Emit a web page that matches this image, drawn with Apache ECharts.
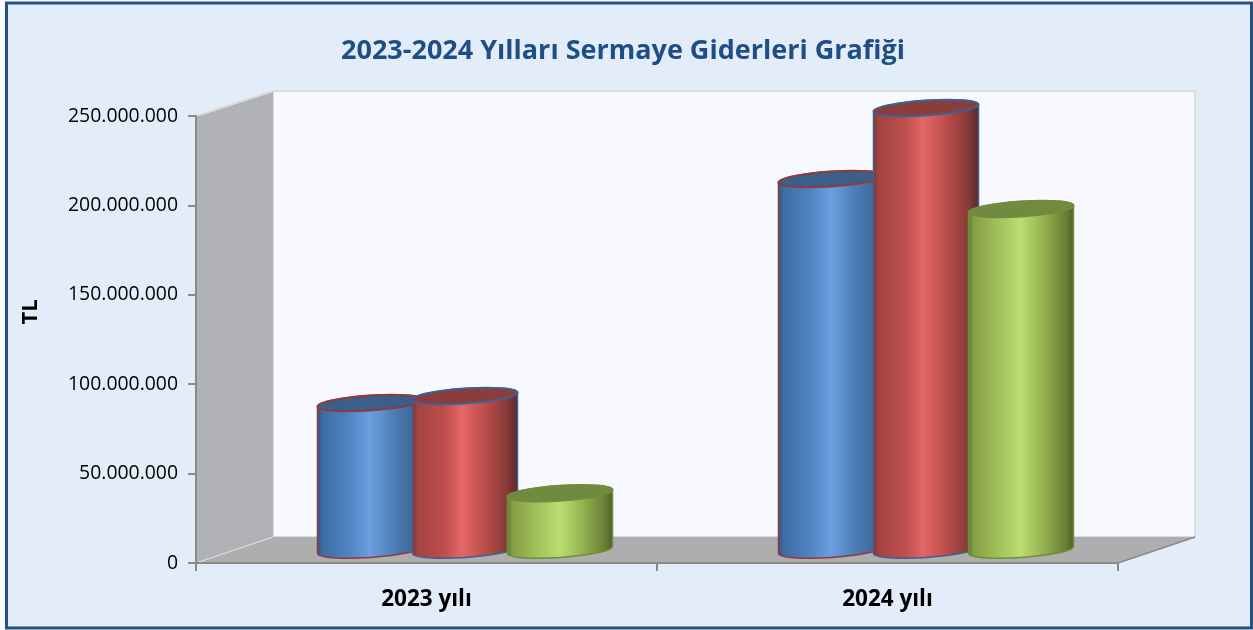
<!DOCTYPE html>
<html>
<head>
<meta charset="utf-8">
<script src="https://cdn.jsdelivr.net/npm/echarts@6/dist/echarts.min.js"></script>
<style>
    html, body { margin: 0; padding: 0; background: #f7fbff; }
    #chart { width: 1253px; height: 630px; }
</style>
</head>
<body>
<div id="chart"></div>
<script>
    const categories = ['2023 yılı', '2024 yılı'];
    const tickLabels = ['0', '50.000.000', '100.000.000', '150.000.000', '200.000.000', '250.000.000'];
    const blueValues = [82500000, 207800000];
    const redValues = [86400000, 247500000];
    const greenValues = [32000000, 191000000];

    // 3d box depth, in pixels
    const depthX = 77;
    const depthY = 26;
    const barWidth = 105;
    const barStep = 95;
    const fontName = 'Open Sans';

    function hGrad(stops) {
        return new echarts.graphic.LinearGradient(0, 0, 1, 0, stops.map(s => ({offset: s[0], color: s[1]})));
    }

    const blueStyle = {
        body: hGrad([[0, '#2f5584'], [0.06, '#3f6da3'], [0.3, '#4f83c2'], [0.5, '#6a9fe0'], [0.72, '#4c7eb9'], [0.92, '#3d6795'], [1, '#2c4a70']]),
        top: '#3a5f8a',
        stroke: '#93393a'
    };
    const redStyle = {
        body: hGrad([[0, '#7f3433'], [0.06, '#a44442'], [0.3, '#bd4e4c'], [0.47, '#e36766'], [0.7, '#b94c4a'], [0.9, '#843a38'], [1, '#582625']]),
        top: '#8b3d3b',
        stroke: '#3c6192'
    };
    const greenStyle = {
        body: hGrad([[0, '#5f7630'], [0.06, '#85a044'], [0.3, '#a3c25c'], [0.5, '#bade70'], [0.72, '#93b04f'], [0.92, '#687f35'], [1, '#4c5f27']]),
        top: '#728a3f',
        stroke: '#718c3c'
    };

    function cylinderSeries(name, values, index, look) {
        return {
            name: name,
            type: 'custom',
            z: 5 + index,
            silent: true,
            data: values.map((v, i) => [i, v]),
            renderItem: function (params, api) {
                const cat = api.value(0);
                const cx = api.coord([cat, 0])[0] + depthX / 2 + (index - 1) * barStep;
                const baseY = api.coord([cat, 0])[1] - depthY / 2;
                const topY = api.coord([cat, api.value(1)])[1] - depthY / 2 + 0.5;
                const rx = barWidth / 2;
                const ry = 7.5;
                const tilt = 3.5;
                const rot = -Math.atan(tilt / rx) * 180 / Math.PI;
                const arc = rx + ' ' + ry + ' ' + rot + ' 0 0 ';
                const lx = cx - rx;
                const rx2 = cx + rx;
                const bodyPath = 'M' + lx + ' ' + (topY + tilt) +
                    ' L' + lx + ' ' + (baseY + tilt) +
                    ' A' + arc + rx2 + ' ' + (baseY - tilt) +
                    ' L' + rx2 + ' ' + (topY - tilt) +
                    ' A' + arc + lx + ' ' + (topY + tilt) + ' Z';
                const topPath = 'M' + lx + ' ' + (topY + tilt) +
                    ' A' + arc + rx2 + ' ' + (topY - tilt) +
                    ' A' + arc + lx + ' ' + (topY + tilt) + ' Z';
                return {
                    type: 'group',
                    children: [
                        {
                            type: 'path',
                            shape: {pathData: bodyPath},
                            style: {fill: look.body, stroke: look.stroke, lineWidth: 1.5}
                        },
                        {
                            type: 'path',
                            shape: {pathData: topPath},
                            style: {fill: look.top, stroke: look.stroke, lineWidth: 2}
                        }
                    ]
                };
            }
        };
    }

    // side wall, back wall and floor, taken from the grid rect
    const wallSeries = {
        type: 'custom',
        z: 1,
        silent: true,
        data: [0],
        renderItem: function (params) {
            const g = params.coordSys;
            const l = g.x, t = g.y, r = g.x + g.width, b = g.y + g.height;
            const bl = l + depthX, br = r + depthX, bt = t - depthY + 1, bb = b - depthY;
            return {
                type: 'group',
                children: [
                    {type: 'rect', shape: {x: bl, y: bt, width: br - bl, height: bb - bt},
                        style: {fill: '#f7f9fe', stroke: '#dcdcdc', lineWidth: 2}},
                    {type: 'polygon', shape: {points: [[l, t], [bl, bt], [bl, bb], [l, b]]},
                        style: {fill: '#b1b2b5'}},
                    {type: 'polygon', shape: {points: [[l, b], [bl, bb], [br, bb], [r, b]]},
                        style: {fill: '#aeaeae'}},
                    {type: 'polyline', shape: {points: [[l, t], [bl, bt]]},
                        style: {fill: 'none', stroke: '#dcdcdc', lineWidth: 2}},
                    {type: 'polyline', shape: {points: [[l, b], [bl, bb]]},
                        style: {fill: 'none', stroke: '#e4e4e4', lineWidth: 1}},
                    {type: 'polyline', shape: {points: [[r, b], [br, bb]]},
                        style: {fill: 'none', stroke: '#8a8a8a', lineWidth: 1.5}}
                ]
            };
        }
    };

    const chart = echarts.init(document.getElementById('chart'), null, {renderer: 'canvas'});

    const option = {
        backgroundColor: 'transparent',
        animation: false,
        graphic: [{
            type: 'rect',
            z: -10,
            shape: {x: 6.5, y: 3, width: 1245, height: 625},
            style: {fill: '#e3edfa', stroke: '#25507f', lineWidth: 3}
        }],
        title: {
            text: '2023-2024 Yılları Sermaye Giderleri Grafiği',
            left: 618,
            top: 33,
            textAlign: 'center',
            textStyle: {fontFamily: fontName, fontSize: 27, fontWeight: 'bold', color: '#1f4e85'}
        },
        grid: {left: 196, top: 116, width: 922, height: 447},
        xAxis: {
            type: 'category',
            data: categories,
            z: 10,
            axisLine: {lineStyle: {color: '#8a8a8a', width: 2}},
            axisTick: {show: true, length: 8, alignWithLabel: false, lineStyle: {color: '#8a8a8a', width: 2}},
            axisLabel: {margin: 25, color: '#000', fontFamily: fontName, fontSize: 22.5, fontWeight: 'bold'},
            splitLine: {show: false}
        },
        yAxis: {
            type: 'value',
            min: 0,
            max: 250000000,
            interval: 50000000,
            z: 10,
            name: 'TL',
            nameLocation: 'middle',
            nameGap: 154,
            nameRotate: 90,
            nameTextStyle: {color: '#000', fontFamily: fontName, fontSize: 22, fontWeight: 'bold', padding: [0, 0, 0, 55]},
            axisLine: {show: true, lineStyle: {color: '#8a8a8a', width: 2}},
            axisTick: {show: true, length: 8, lineStyle: {color: '#8a8a8a', width: 2}},
            axisLabel: {
                margin: 18,
                color: '#000',
                fontFamily: fontName,
                fontSize: 19.4,
                padding: [3, 0, 0, 0],
                formatter: v => tickLabels[v / 50000000]
            },
            splitLine: {show: false}
        },
        series: [
            wallSeries,
            cylinderSeries('Mavi', blueValues, 0, blueStyle),
            cylinderSeries('Kırmızı', redValues, 1, redStyle),
            cylinderSeries('Yeşil', greenValues, 2, greenStyle)
        ]
    };

    chart.setOption(option);
</script>
</body>
</html>
